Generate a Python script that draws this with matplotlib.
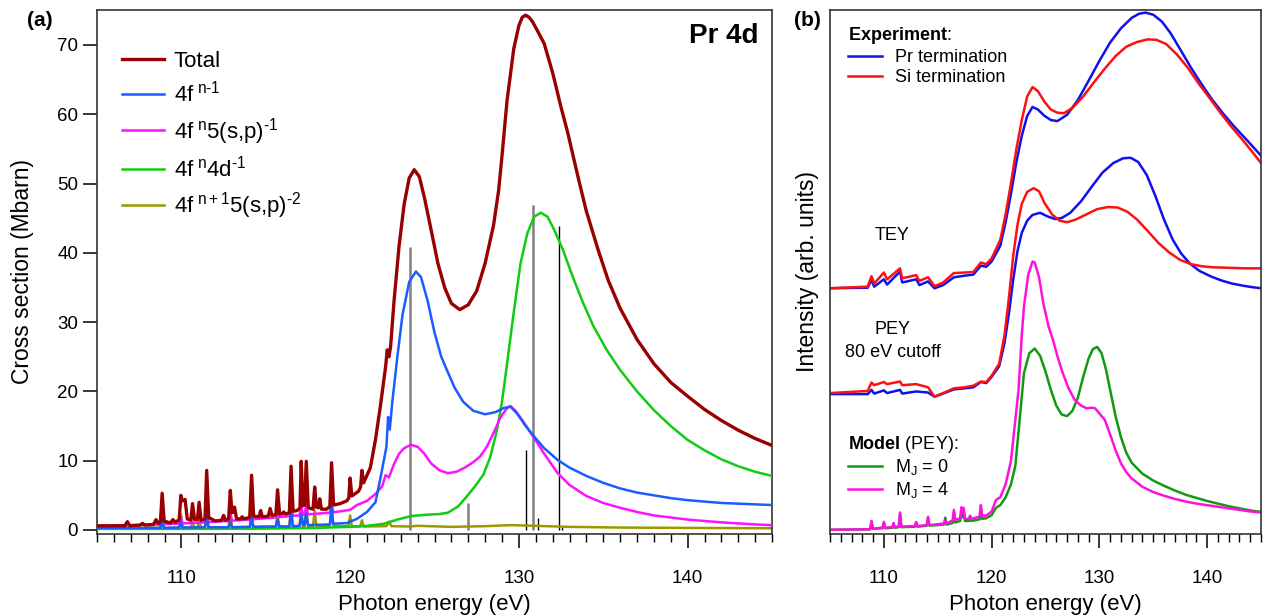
import numpy as np
import matplotlib.pyplot as plt
from matplotlib.ticker import MultipleLocator

plt.rcParams['font.family'] = ['Liberation Sans', 'DejaVu Sans']
plt.rcParams['mathtext.fontset'] = 'custom'
plt.rcParams['mathtext.rm'] = 'Liberation Sans'
plt.rcParams['mathtext.it'] = 'Liberation Sans:italic'
plt.rcParams['mathtext.bf'] = 'Liberation Sans:bold'

# ---------------- panel (a): calculated cross sections (eV, Mbarn) ----------------
total = [(105.0, 0.6), (106.65, 0.6), (106.8, 1.2), (106.95, 0.6), (107.55, 0.7), (107.7, 0.95),
         (107.85, 0.7), (108.35, 0.8), (108.5, 1.5), (108.65, 0.9), (108.76, 1.2), (108.86, 5.3),
         (108.98, 1.3), (109.35, 1.0), (109.5, 1.5), (109.65, 1.1), (109.87, 1.5), (109.97, 5.0),
         (110.05, 4.2), (110.13, 4.3), (110.22, 4.4), (110.35, 1.6), (110.56, 1.4), (110.66, 3.8),
         (110.78, 1.5), (110.95, 1.5), (111.05, 4.0), (111.17, 1.4), (111.4, 1.6), (111.5, 8.6),
         (111.62, 1.8), (112.0, 1.3), (112.38, 1.4), (112.5, 2.1), (112.62, 1.4), (112.8, 1.6),
         (112.9, 5.7), (113.0, 2.5), (113.08, 2.6), (113.15, 3.3), (113.27, 1.6), (113.5, 1.6),
         (113.6, 1.9), (113.7, 1.6), (114.05, 1.8), (114.16, 7.9), (114.28, 2.0), (114.6, 1.9),
         (114.7, 2.8), (114.8, 1.9), (115.15, 2.0), (115.26, 3.1), (115.37, 2.1), (115.6, 2.2),
         (115.7, 5.8), (115.82, 2.3), (115.96, 2.3), (116.06, 2.6), (116.16, 2.3), (116.4, 2.5),
         (116.5, 9.2), (116.62, 2.7), (116.85, 2.8), (116.95, 3.0), (117.03, 3.2), (117.1, 9.9),
         (117.2, 3.5), (117.3, 3.6), (117.4, 9.9), (117.52, 3.2), (117.8, 3.0), (117.9, 6.2),
         (118.0, 3.3), (118.12, 3.2), (118.2, 4.5), (118.3, 3.0), (118.6, 3.0), (118.8, 3.4),
         (118.9, 9.7), (119.02, 3.6), (119.4, 3.8), (119.8, 4.2), (119.92, 4.6), (120.0, 7.5),
         (120.1, 4.9), (120.5, 5.6), (120.62, 6.2), (120.7, 8.6), (120.8, 6.8), (121.2, 9.0),
         (121.5, 13.0), (121.8, 18.0), (122.1, 23.5), (122.2, 26.0), (122.3, 25.0), (122.4, 26.5),
         (122.6, 33.0), (122.9, 41.0), (123.2, 47.0), (123.5, 50.8), (123.8, 52.0), (124.1, 51.0),
         (124.4, 48.0), (124.8, 43.3), (125.2, 38.5), (125.6, 35.0), (126.0, 32.7), (126.5, 31.8),
         (127.0, 32.5), (127.5, 34.5), (128.0, 38.5), (128.5, 44.0), (128.8, 49.0), (129.0, 54.0),
         (129.3, 62.0), (129.7, 69.5), (130.0, 72.8), (130.2, 74.0), (130.4, 74.3), (130.6, 74.0),
         (130.8, 73.4), (131.2, 71.6), (131.5, 70.2), (132.0, 66.0), (132.5, 61.0), (132.9, 57.3),
         (133.5, 51.0), (134.0, 46.0), (134.7, 40.4), (135.3, 36.0), (136.0, 32.0), (137.0, 27.5),
         (138.0, 24.0), (139.0, 21.3), (140.0, 19.3), (141.0, 17.4), (142.0, 15.8), (143.0, 14.4),
         (144.0, 13.2), (145.0, 12.2)]

f_nm1 = [(105.0, 0.3), (108.76, 0.3), (108.86, 1.5), (108.96, 0.3), (109.87, 0.35), (109.97, 1.2),
         (110.07, 0.35), (111.4, 0.4), (111.5, 2.0), (111.6, 0.4), (112.8, 0.4), (112.9, 1.2),
         (113.0, 0.4), (114.06, 0.45), (114.16, 1.8), (114.26, 0.45), (115.6, 0.5), (115.7, 1.5),
         (115.8, 0.5), (116.4, 0.5), (116.5, 3.0), (116.6, 0.55), (117.0, 0.6), (117.1, 2.2),
         (117.2, 0.7), (117.3, 0.7), (117.4, 2.4), (117.5, 0.7), (118.8, 0.8), (118.9, 3.3),
         (119.0, 0.9), (119.8, 1.0), (120.4, 1.6), (121.0, 2.6), (121.5, 4.0), (121.8, 7.5),
         (122.15, 12.0), (122.25, 16.3), (122.35, 14.5), (122.5, 18.5), (122.8, 25.0), (123.1, 31.0),
         (123.5, 35.8), (123.9, 37.3), (124.2, 36.5), (124.6, 33.0), (125.0, 28.5), (125.4, 25.0),
         (125.75, 23.0), (126.2, 20.5), (126.7, 18.5), (127.3, 17.2), (128.0, 16.7), (128.6, 17.0),
         (129.1, 17.6), (129.5, 17.8), (129.9, 16.8), (130.4, 15.0), (130.9, 13.5), (131.5, 11.8),
         (132.3, 10.1), (133.0, 9.0), (134.0, 7.8), (135.0, 6.8), (136.0, 6.0), (137.0, 5.4),
         (138.0, 5.0), (139.0, 4.6), (140.0, 4.3), (141.0, 4.1), (142.0, 3.9), (143.0, 3.8),
         (144.0, 3.7), (145.0, 3.6)]

f_n5sp = [(105.0, 0.6), (108.76, 0.8), (108.86, 2.2), (108.96, 0.85), (109.87, 0.9), (109.97, 2.0),
          (110.07, 0.95), (111.4, 1.1), (111.5, 3.5), (111.6, 1.15), (112.8, 1.3), (112.9, 2.4),
          (113.0, 1.35), (114.06, 1.5), (114.16, 3.0), (114.26, 1.55), (115.6, 1.8), (115.7, 2.6),
          (115.8, 1.85), (116.4, 2.0), (116.5, 3.8), (116.6, 2.05), (117.0, 2.1), (117.1, 3.6),
          (117.2, 2.2), (117.3, 2.2), (117.4, 3.6), (117.5, 2.25), (118.8, 2.5), (118.9, 3.8),
          (119.0, 2.55), (120.0, 2.9), (120.4, 3.6), (121.0, 4.2), (121.5, 5.2), (121.9, 6.3),
          (122.1, 7.9), (122.3, 7.6), (122.6, 9.5), (122.9, 11.0), (123.2, 11.8), (123.6, 12.3),
          (124.0, 12.0), (124.4, 11.0), (124.8, 9.6), (125.3, 8.6), (125.8, 8.2), (126.3, 8.4),
          (126.8, 9.0), (127.3, 9.8), (127.7, 10.6), (128.1, 12.0), (128.5, 14.0), (128.9, 16.2),
          (129.3, 17.6), (129.5, 17.9), (129.8, 17.2), (130.3, 15.5), (130.9, 13.3), (131.5, 11.0),
          (132.3, 8.2), (133.0, 6.5), (134.0, 4.9), (135.0, 3.9), (136.0, 3.2), (137.0, 2.6),
          (138.0, 2.1), (139.0, 1.8), (140.0, 1.5), (141.0, 1.3), (142.0, 1.1), (143.0, 0.95),
          (144.0, 0.8), (145.0, 0.7)]

f_n4d = [(105.0, 0.15), (110.0, 0.15), (115.0, 0.2), (118.0, 0.3), (120.0, 0.45), (121.0, 0.6),
         (122.0, 0.9), (122.8, 1.5), (123.6, 2.0), (124.5, 2.2), (125.3, 2.3), (125.8, 2.5),
         (126.4, 3.4), (126.9, 4.8), (127.4, 6.3), (127.9, 8.0), (128.3, 10.5), (128.7, 14.4),
         (129.0, 18.5), (129.3, 24.0), (129.7, 31.5), (130.1, 38.5), (130.5, 42.8), (130.9, 45.2),
         (131.3, 45.8), (131.7, 45.2), (132.1, 43.3), (132.6, 40.5), (133.2, 36.5), (133.8, 32.8),
         (134.4, 29.5), (135.2, 26.0), (136.0, 23.1), (137.0, 20.0), (138.0, 17.3), (139.0, 15.0),
         (140.0, 13.0), (141.0, 11.5), (142.0, 10.2), (143.0, 9.2), (144.0, 8.4), (145.0, 7.8)]

f_np1 = [(105.0, 0.3), (108.76, 0.3), (108.86, 1.6), (108.96, 0.3), (109.87, 0.35), (109.97, 2.3),
         (110.07, 0.35), (110.56, 0.35), (110.66, 1.2), (110.76, 0.35), (110.95, 0.35), (111.05, 1.6),
         (111.15, 0.4), (111.4, 0.4), (111.5, 3.3), (111.6, 0.4), (112.8, 0.4), (112.9, 2.6),
         (113.0, 0.4), (114.06, 0.45), (114.16, 3.3), (114.26, 0.45), (115.6, 0.5), (115.7, 2.4),
         (115.8, 0.5), (116.4, 0.5), (116.5, 3.3), (116.6, 0.5), (117.0, 0.55), (117.1, 3.5),
         (117.2, 0.6), (117.3, 0.6), (117.4, 3.4), (117.5, 0.6), (117.8, 0.6), (117.9, 2.8),
         (118.0, 0.6), (118.8, 0.6), (118.9, 3.3), (119.0, 0.6), (119.9, 0.55), (120.0, 2.1),
         (120.1, 0.55), (120.6, 0.5), (120.7, 1.4), (120.8, 0.5), (122.15, 0.55), (122.3, 1.2),
         (122.45, 0.55), (123.5, 0.5), (124.0, 0.6), (126.0, 0.45), (128.0, 0.55), (129.5, 0.7),
         (131.0, 0.6), (133.0, 0.45), (136.0, 0.35), (140.0, 0.3), (145.0, 0.25)]

stick_e = [123.55, 127.0, 130.45, 130.85, 131.15, 132.35, 132.55]
stick_h = [40.9, 3.9, 11.5, 46.9, 1.8, 43.9, 0.5]
stick_gray = [True, True, False, True, False, False, False]

# ---------------- panel (b): experiment and model (arb. units) ----------------
tey_pr = [(105.0, 46.9), (108.5, 47.0), (108.85, 48.5), (109.1, 47.2), (110.0, 48.6), (110.3, 47.6),
          (111.5, 50.1), (111.7, 48.0), (113.0, 48.6), (113.3, 47.5), (114.1, 48.2), (114.7, 46.9),
          (115.5, 47.5), (116.5, 49.0), (117.5, 49.3), (118.3, 49.5), (119.0, 51.2), (119.5, 51.0),
          (120.0, 52.0), (120.8, 55.0), (121.3, 59.5), (121.8, 65.0), (122.3, 71.0), (122.8, 76.0),
          (123.3, 79.8), (123.8, 81.5), (124.3, 81.0), (124.9, 79.8), (125.5, 79.0), (126.1, 78.8),
          (127.0, 80.0), (128.0, 82.8), (129.0, 86.5), (130.0, 90.3), (131.0, 93.8), (132.0, 96.5),
          (133.0, 98.5), (133.7, 99.3), (134.3, 99.5), (135.0, 99.1), (135.8, 97.8), (136.6, 95.6),
          (137.5, 92.5), (138.5, 89.0), (139.5, 85.8), (140.5, 82.8), (141.5, 80.2), (142.5, 77.8),
          (143.5, 75.6), (144.3, 73.8), (145.0, 72.2)]

tey_si = [(105.0, 46.9), (108.5, 47.2), (108.85, 49.2), (109.1, 47.8), (110.0, 49.9), (110.3, 48.6),
          (111.5, 50.7), (111.7, 48.8), (113.0, 49.4), (113.3, 48.3), (114.1, 49.0), (114.7, 47.3),
          (115.5, 48.0), (116.5, 49.8), (117.5, 49.9), (118.3, 50.0), (119.0, 51.8), (119.5, 51.5),
          (120.0, 52.6), (120.8, 56.1), (121.3, 61.0), (121.8, 67.0), (122.3, 73.5), (122.8, 79.0),
          (123.3, 83.5), (123.8, 85.3), (124.3, 84.5), (124.9, 82.5), (125.5, 81.0), (126.1, 80.4),
          (126.7, 80.3), (127.5, 81.3), (128.5, 83.5), (129.5, 86.2), (130.5, 88.8), (131.5, 91.2),
          (132.5, 93.0), (133.5, 93.9), (134.5, 94.4), (135.3, 94.3), (136.2, 93.5), (137.2, 91.5),
          (138.2, 89.0), (139.2, 86.0), (140.3, 83.0), (141.3, 80.2), (142.3, 77.6), (143.3, 75.2),
          (144.2, 72.9), (145.0, 70.8)]

pey_pr = [(105.0, 26.7), (108.5, 26.7), (108.85, 27.5), (109.1, 26.8), (110.0, 27.4), (110.3, 26.9),
          (111.5, 27.5), (111.7, 26.8), (113.0, 27.2), (114.1, 27.0), (114.7, 26.2), (115.5, 26.8),
          (116.5, 27.6), (117.5, 27.8), (118.3, 28.0), (119.0, 29.0), (119.5, 28.8), (120.0, 30.0),
          (120.7, 32.0), (121.2, 36.5), (121.6, 42.0), (122.0, 48.5), (122.4, 54.0), (122.8, 57.5),
          (123.3, 59.8), (123.8, 60.9), (124.5, 61.3), (125.2, 60.6), (125.9, 60.1), (126.5, 60.3),
          (127.3, 61.3), (128.3, 63.5), (129.3, 66.3), (130.3, 69.0), (131.3, 70.8), (132.2, 71.7),
          (132.9, 71.8), (133.6, 71.0), (134.4, 68.5), (135.2, 64.5), (136.0, 60.0), (136.8, 56.2),
          (137.6, 53.5), (138.4, 51.6), (139.3, 50.2), (140.3, 49.2), (141.3, 48.4), (142.3, 47.8),
          (143.3, 47.4), (144.2, 47.1), (145.0, 46.9)]

pey_si = [(105.0, 26.9), (108.5, 27.3), (108.85, 28.9), (109.1, 28.4), (110.0, 29.0), (110.3, 28.6),
          (111.5, 29.1), (111.7, 28.4), (113.0, 28.6), (114.1, 28.0), (114.7, 26.2), (115.5, 26.9),
          (116.5, 27.8), (117.5, 28.0), (118.3, 28.3), (119.0, 29.1), (119.5, 29.0), (120.0, 30.2),
          (120.7, 32.5), (121.2, 38.0), (121.6, 45.0), (122.0, 53.0), (122.4, 59.0), (122.8, 63.0),
          (123.3, 65.3), (123.9, 66.0), (124.4, 65.4), (124.9, 63.2), (125.6, 61.0), (126.3, 59.8),
          (127.0, 59.5), (127.8, 60.0), (128.8, 61.0), (129.8, 62.0), (130.8, 62.4), (131.7, 62.3),
          (132.6, 61.5), (133.5, 60.0), (134.5, 57.8), (135.5, 55.5), (136.5, 53.7), (137.5, 52.3),
          (138.5, 51.5), (139.5, 51.1), (140.5, 50.9), (142.0, 50.8), (143.5, 50.7), (145.0, 50.7)]

model_mj0 = [(105.0, 0.8), (108.73, 0.9), (108.85, 2.3), (108.97, 1.0), (109.88, 1.1), (110.0, 2.1),
             (110.12, 1.1), (110.8, 1.2), (110.9, 1.9), (111.0, 1.2), (111.38, 1.3), (111.5, 3.8),
             (111.62, 1.3), (112.88, 1.4), (113.0, 2.1), (113.12, 1.4), (113.98, 1.6), (114.1, 3.0),
             (114.22, 1.6), (115.58, 1.8), (115.7, 3.1), (115.82, 1.8), (116.38, 2.1), (116.5, 4.0),
             (116.62, 2.2), (117.08, 2.5), (117.2, 4.6), (117.3, 3.2), (117.4, 4.6), (117.52, 2.5),
             (117.9, 2.5), (118.0, 3.2), (118.12, 2.5), (118.88, 2.8), (119.0, 5.0), (119.12, 2.9),
             (119.5, 3.0), (120.0, 3.6), (120.4, 5.0), (120.8, 5.5), (121.3, 7.0), (121.8, 9.5),
             (122.2, 13.0), (122.6, 21.8), (123.0, 30.7), (123.5, 34.5), (124.0, 35.4), (124.5, 34.0),
             (125.0, 31.0), (125.5, 27.5), (126.0, 24.5), (126.5, 22.8), (127.0, 22.5), (127.5, 23.5),
             (128.0, 26.0), (128.5, 30.0), (129.0, 33.5), (129.4, 35.3), (129.8, 35.7), (130.2, 34.5),
             (130.6, 31.5), (131.0, 27.5), (131.5, 22.5), (132.0, 18.5), (132.5, 15.5), (133.0, 13.6),
             (134.0, 11.5), (135.0, 10.2), (136.0, 9.2), (137.0, 8.3), (138.0, 7.5), (139.0, 6.9),
             (140.0, 6.3), (141.0, 5.8), (142.0, 5.3), (143.0, 4.9), (144.0, 4.5), (145.0, 4.2)]

model_mj4 = [(105.0, 0.8), (108.73, 0.9), (108.85, 2.5), (108.97, 1.0), (109.88, 1.2), (110.0, 2.3),
             (110.12, 1.2), (110.8, 1.3), (110.9, 2.1), (111.0, 1.3), (111.38, 1.4), (111.5, 4.1),
             (111.62, 1.4), (112.88, 1.5), (113.0, 2.3), (113.12, 1.5), (113.98, 1.7), (114.1, 3.3),
             (114.22, 1.7), (115.58, 2.0), (115.7, 2.6), (115.82, 2.0), (116.38, 2.6), (116.5, 4.6),
             (116.62, 2.7), (117.08, 3.0), (117.2, 5.1), (117.3, 3.9), (117.4, 5.0), (117.52, 2.9),
             (117.9, 2.9), (118.0, 3.5), (118.12, 2.9), (118.88, 3.3), (119.0, 5.5), (119.12, 3.5),
             (119.5, 3.5), (120.0, 4.3), (120.4, 6.5), (120.8, 7.0), (121.3, 9.5), (121.8, 14.0),
             (122.2, 21.8), (122.5, 27.5), (122.8, 38.0), (123.0, 43.4), (123.4, 49.5), (123.8, 52.0),
             (124.0, 51.8), (124.4, 49.0), (124.8, 44.0), (125.3, 39.5), (125.7, 37.0), (126.1, 34.0),
             (126.5, 31.3), (127.1, 28.0), (127.7, 25.6), (128.3, 24.5), (128.8, 24.0), (129.3, 24.1),
             (129.6, 24.0), (130.0, 23.0), (130.5, 21.8), (131.0, 19.0), (131.5, 16.0), (132.0, 13.5),
             (132.5, 11.8), (133.0, 10.6), (134.0, 9.0), (135.0, 8.0), (136.0, 7.3), (137.0, 6.7),
             (138.0, 6.2), (139.0, 5.8), (140.0, 5.5), (141.0, 5.2), (142.0, 4.9), (143.0, 4.6),
             (144.0, 4.3), (145.0, 4.1)]


def xy(pts):
    a = np.array(pts)
    return a[:, 0], a[:, 1]


W, H = 1266, 615
fig = plt.figure(figsize=(W / 100, H / 100), dpi=100)
ax1 = fig.add_axes([97 / W, 1 - 534 / H, 675 / W, 524 / H])
ax2 = fig.add_axes([830 / W, 1 - 534 / H, 431 / W, 524 / H])

# ---- panel (a)
for e, h, g in zip(stick_e, stick_h, stick_gray):
    ax1.vlines(e, 0, h, color='#808080' if g else 'black', lw=1.8 if g else 1.0, zorder=1)

hy = '\u2010'  # text hyphen, so superscripts read "n-1" rather than a minus sign
ax1.plot(*xy(f_np1), color='#999900', lw=1.8,
         label=r'4f$^{\mathregular{\ n+1}}$5(s,p)$^{\mathregular{' + hy + '2}}$', zorder=2)
ax1.plot(*xy(f_n4d), color='#11cc11', lw=1.8,
         label=r'4f$^{\mathregular{\ n}}$4d$^{\mathregular{' + hy + '1}}$', zorder=3)
ax1.plot(*xy(f_n5sp), color='#ff11ff', lw=1.8,
         label=r'4f$^{\mathregular{\ n}}$5(s,p)$^{\mathregular{' + hy + '1}}$', zorder=4)
ax1.plot(*xy(f_nm1), color='#1a5cff', lw=1.8,
         label=r'4f$^{\mathregular{\ n' + hy + '1}}$', zorder=5)
ax1.plot(*xy(total), color='#990000', lw=2.4, label='Total', zorder=6)

h, l = ax1.get_legend_handles_labels()
ax1.legend(h[::-1], l[::-1], loc='upper left', bbox_to_anchor=(0.008, 0.96), frameon=False,
           fontsize=16, handlelength=1.85, handletextpad=0.45, labelspacing=0.4)

ax1.set_xlim(105, 145)
ax1.set_ylim(-0.58, 75.05)
ax1.xaxis.set_major_locator(MultipleLocator(10))
ax1.xaxis.set_minor_locator(MultipleLocator(1))
ax1.yaxis.set_major_locator(MultipleLocator(10))
ax1.tick_params(axis='both', which='major', direction='out', length=10, width=1.1, labelsize=13.5)
ax1.tick_params(axis='x', which='minor', direction='out', length=6, width=1.0)
ax1.tick_params(axis='x', which='major', pad=16)
ax1.set_xlabel('Photon energy (eV)', fontsize=16, labelpad=5)
ax1.set_ylabel('Cross section (Mbarn)', fontsize=16.5, labelpad=17)
ax1.text(0.98, 0.975, 'Pr 4d', transform=ax1.transAxes, ha='right', va='top',
         fontsize=20, fontweight='bold')

# ---- panel (b)
l_pr, = ax2.plot(*xy(tey_pr), color='#1010ee', lw=1.8)
l_si, = ax2.plot(*xy(tey_si), color='#ff1010', lw=1.8)
ax2.plot(*xy(pey_pr), color='#1010ee', lw=1.8)
ax2.plot(*xy(pey_si), color='#ff1010', lw=1.8)
l_m0, = ax2.plot(*xy(model_mj0), color='#119911', lw=1.8)
l_m4, = ax2.plot(*xy(model_mj4), color='#ff11dd', lw=1.8)

leg_exp = ax2.legend([l_pr, l_si], ['Pr termination', 'Si termination'],
                     title=r'$\mathbf{Experiment}$:', alignment='left', loc='upper left',
                     bbox_to_anchor=(0.0, 1.005), frameon=False, fontsize=13, title_fontsize=13,
                     handlelength=1.9, handletextpad=0.7, labelspacing=0.15, borderpad=0.5)
ax2.add_artist(leg_exp)
ax2.legend([l_m0, l_m4], [r'M$_{\mathregular{J}}$ = 0', r'M$_{\mathregular{J}}$ = 4'],
           title=r'$\mathbf{Model}$ (PEY):', alignment='left', loc='upper left',
           bbox_to_anchor=(0.0, 0.226), frameon=False, fontsize=13, title_fontsize=13,
           handlelength=1.9, handletextpad=0.7, labelspacing=0.15, borderpad=0.5)

ax2.text(0.145, 0.57, 'TEY', transform=ax2.transAxes, ha='center', va='center', fontsize=13)
ax2.text(0.145, 0.39, 'PEY', transform=ax2.transAxes, ha='center', va='center', fontsize=13)
ax2.text(0.145, 0.346, '80 eV cutoff', transform=ax2.transAxes, ha='center', va='center', fontsize=13)

ax2.set_xlim(105, 145)
ax2.set_ylim(0, 100)
ax2.xaxis.set_major_locator(MultipleLocator(10))
ax2.xaxis.set_minor_locator(MultipleLocator(1))
ax2.set_yticks([])
ax2.tick_params(axis='x', which='major', direction='out', length=10, width=1.1, labelsize=13.5, pad=16)
ax2.tick_params(axis='x', which='minor', direction='out', length=6, width=1.0)
ax2.set_xlabel('Photon energy (eV)', fontsize=16, labelpad=5)
ax2.set_ylabel('Intensity (arb. units)', fontsize=16.5, labelpad=8)

for ax in (ax1, ax2):
    for s in ax.spines.values():
        s.set_linewidth(1.2)
        s.set_color('#333333')

fig.text(40 / W, 1 - 20 / H, '(a)', ha='center', va='center', fontsize=15, fontweight='bold')
fig.text(807 / W, 1 - 20 / H, '(b)', ha='center', va='center', fontsize=15, fontweight='bold')

fig.savefig('out.png', dpi=100)
